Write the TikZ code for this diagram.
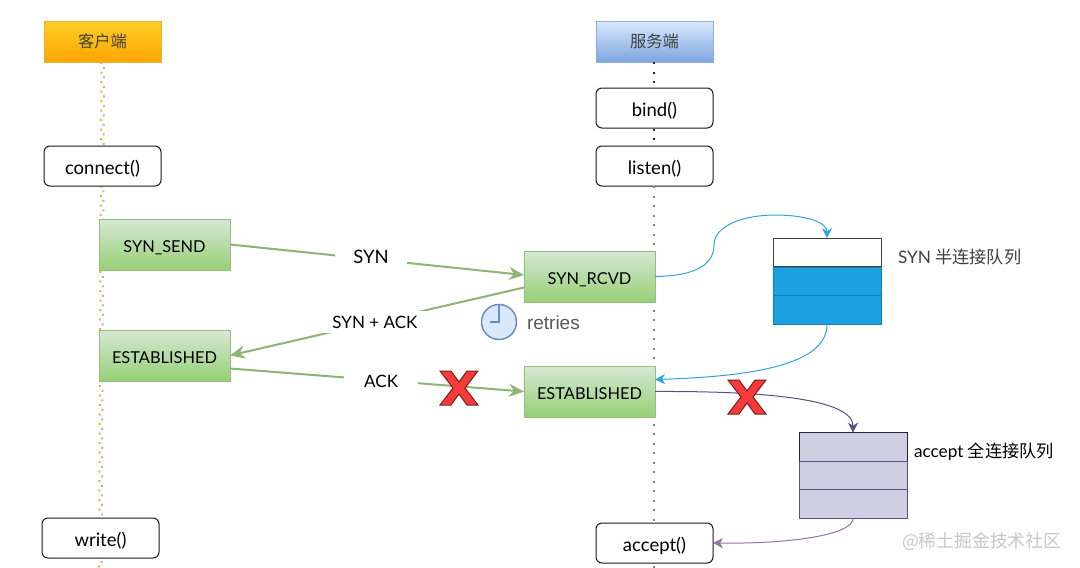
\documentclass[tikz,border=0pt]{standalone}
\usepackage{fontspec}
\setmainfont{Lato}
\newfontfamily\cjk{Noto Sans CJK SC}
\newfontfamily\arialf{Liberation Sans}
\usetikzlibrary{arrows.meta,calc}
\definecolor{grnline}{HTML}{8CB574}
\definecolor{bluearrow}{HTML}{2FA4DE}
\definecolor{purparrow}{HTML}{56517E}
\definecolor{lilacarrow}{HTML}{9673A6}
\definecolor{orgtop}{HTML}{FFCD28}
\definecolor{orgbot}{HTML}{FFA500}
\definecolor{orgline}{HTML}{E8B030}
\definecolor{blutop}{HTML}{DAE8FC}
\definecolor{blubot}{HTML}{7EA6E0}
\definecolor{bluline}{HTML}{8FAEDB}
\definecolor{grntop}{HTML}{D5E8D4}
\definecolor{grnbot}{HTML}{97D077}
\definecolor{grnedge}{HTML}{93BF7C}
\definecolor{qblueF}{HTML}{1BA1E2}
\definecolor{qblueD}{HTML}{1180BE}
\definecolor{qlilacF}{HTML}{D0CEE2}
\definecolor{clockline}{HTML}{6C8EBF}
\definecolor{xred}{HTML}{F63A3A}
\definecolor{xedge}{HTML}{7A1F1F}
\definecolor{dotorange}{HTML}{E8B23C}
\definecolor{dotgray}{HTML}{B5B5B5}
\definecolor{dotpurp}{HTML}{7F7F9F}
\tikzset{
  base/.style={inner sep=0pt,outer sep=0pt,font=\fontsize{18.5}{18.5}\selectfont,text=black},
  headbox/.style={base,font=\fontsize{16.3}{16.3}\selectfont,minimum width=117pt,minimum height=41pt},
  orangehead/.style={headbox,draw=orgline,line width=.8pt,top color=orgtop,bottom color=orgbot},
  bluehead/.style={headbox,draw=bluline,line width=.8pt,top color=blutop,bottom color=blubot},
  callbox/.style={base,draw=black!90,line width=1pt,rounded corners=6pt,fill=white,minimum width=117pt,minimum height=40pt,text height=16.4pt,text depth=0pt},
  statebox/.style={base,font=\fontsize{16.4}{16.4}\selectfont,draw=grnedge,line width=.8pt,top color=grntop,bottom color=grnbot,minimum width=131pt,minimum height=51pt,text height=15pt,text depth=0pt},
  msg/.style={base,fill=white,inner ysep=4pt},
  msgsmall/.style={msg,font=\fontsize{17}{17}\selectfont,text height=14pt,text depth=0pt},
  note/.style={base,font=\fontsize{17.2}{17.2}\selectfont,anchor=west},
  qrow/.style={inner sep=0pt,outer sep=0pt,minimum width=108pt,minimum height=28.6pt},
  qblue/.style={qrow,draw=qblueD,line width=.8pt,fill=qblueF},
  qwhite/.style={qrow,draw=black!75,line width=1pt,fill=white},
  qlilac/.style={qrow,draw=purparrow,line width=1pt,fill=qlilacF},
  qlilactop/.style={qlilac,draw=black!85},
  msgarrow/.style={draw=grnline,line width=2pt,-{Stealth[length=15pt,width=13pt,inset=5pt]}},
  curvearrow/.style={line width=1pt,-{Stealth[length=10pt,width=10pt,inset=3pt]}},
  dotline/.style={line width=2pt,dash pattern=on 2pt off 7.5pt},
  cross/.style={draw=xedge,line width=1pt,fill=xred}
}
\newcommand{\crossmark}[1]{\path[cross,shift={(#1)}] (-19,-17)--(-8,-17)--(0,-6)--(8,-17)--(19,-17)--(6,0)--(19,17)--(8,17)--(0,6)--(-8,17)--(-19,17)--(-6,0)--cycle;}
\begin{document}
\begin{tikzpicture}[x=1pt,y=-1pt]
\useasboundingbox (0,0) rectangle (1080,568);
\fill[white] (0,0) rectangle (1080,568);
% heads and boxes
\node[orangehead] (client) at (102.5,41.5) {\cjk\textcolor{black!75}{客户端}};
\node[bluehead] (server) at (654.5,41.5) {\cjk\textcolor{black!75}{服务端}};
\coordinate (endL) at (100,568);
\coordinate (endS) at (654,568);
\draw[dotline,dotorange] (client.south) ++(-1,0) -- ($(endL)+(-1,0)$);
\draw[dotline,dotgray,dash phase=4.7pt] (client.south) ++(1.5,0) -- ($(endL)+(1.5,0)$);
\node[callbox] (listen) at (654.5,166) {listen()};
\draw[dotline,black!85] ($(server.south)+(-.5,0)$) -- ($(listen.north)+(-.5,0)$);
\draw[dotline,dotpurp] ($(listen.south)+(-.5,0)$) -- (endS);
\node[callbox] (bind) at (654.5,108) {bind()};
\node[callbox] (connect) at (102.5,166) {connect()};
\node[callbox] (write) at (100.5,538) {write()};
\node[callbox] (accept) at (654.5,543) {accept()};
\node[statebox] (synsend) at (164.5,244.5) {SYN\_SEND};
\node[statebox] (estL) at (164.5,355.5) {ESTABLISHED};
\node[statebox] (synrcvd) at (589.5,276.5) {SYN\_RCVD};
\node[statebox] (estR) at (589.5,391.5) {ESTABLISHED};
% queues
\node[qwhite] (q1a) at (827,252.5) {};
\node[qblue] (q1b) at (827,281.5) {};
\node[qblue] (q1c) at (827,310) {};
\node[qlilactop] (q2a) at (853,447) {};
\node[qlilac] (q2b) at (853,475.5) {};
\node[qlilac] (q2c) at (853,504) {};
\node[note,text=black!75] (q1t) at (898,257) {SYN {\cjk 半连接队列}};
\node[note] (q2t) at (914,452) {accept {\cjk 全连接队列}};
% messages
\draw[msgarrow] (synsend.east) -- node[pos=.48,msg,inner xsep=18pt,text height=12pt,text depth=4pt] (m1) {SYN} ($(synrcvd.west)+(0,-1.5)$);
\draw[msgarrow] ($(synrcvd.west)+(0,11)$) -- node[pos=.507,msgsmall,inner xsep=10pt] (m2) {SYN + ACK} (estL.east);
\draw[msgarrow] ($(estL.east)+(0,13)$) -- node[pos=.514,msgsmall,inner xsep=20pt] (m3) {ACK} (estR.west);
% curves
\draw[curvearrow,bluearrow] (synrcvd.east) .. controls (700,276) and (714,262) .. (714,245) .. controls (714,225) and (745,215) .. (775,215) .. controls (805,215) and (827,222) .. (q1a.north);
\draw[curvearrow,bluearrow] (q1c.south) .. controls (827,360) and (770,376) .. ($(estR.east)+(0,-12)$);
\draw[curvearrow,purparrow] (estR.east) .. controls (760,391) and (853,398) .. (q2a.north);
\draw[curvearrow,lilacarrow] (q2c.south) .. controls (853,535) and (790,544) .. (accept.east);
% crosses
\crossmark{459,388}
\crossmark{747,397}
% clock
\node[circle,draw=clockline,fill=blutop,line width=1.5pt,minimum size=35pt,inner sep=0pt] (clock) at (499,322) {};
\draw[clockline,line width=1.5pt] (499,305) -- (clock.center) -- (490,322);
\node[note,font=\arialf\fontsize{19}{19}\selectfont,text=black!65] (retries) at (527,323) {retries};
\node[note,font=\cjk\fontsize{17.8}{17.8}\selectfont,text=black!22] (wm) at (902,541) {@稀土掘金技术社区};
\end{tikzpicture}
\end{document}
